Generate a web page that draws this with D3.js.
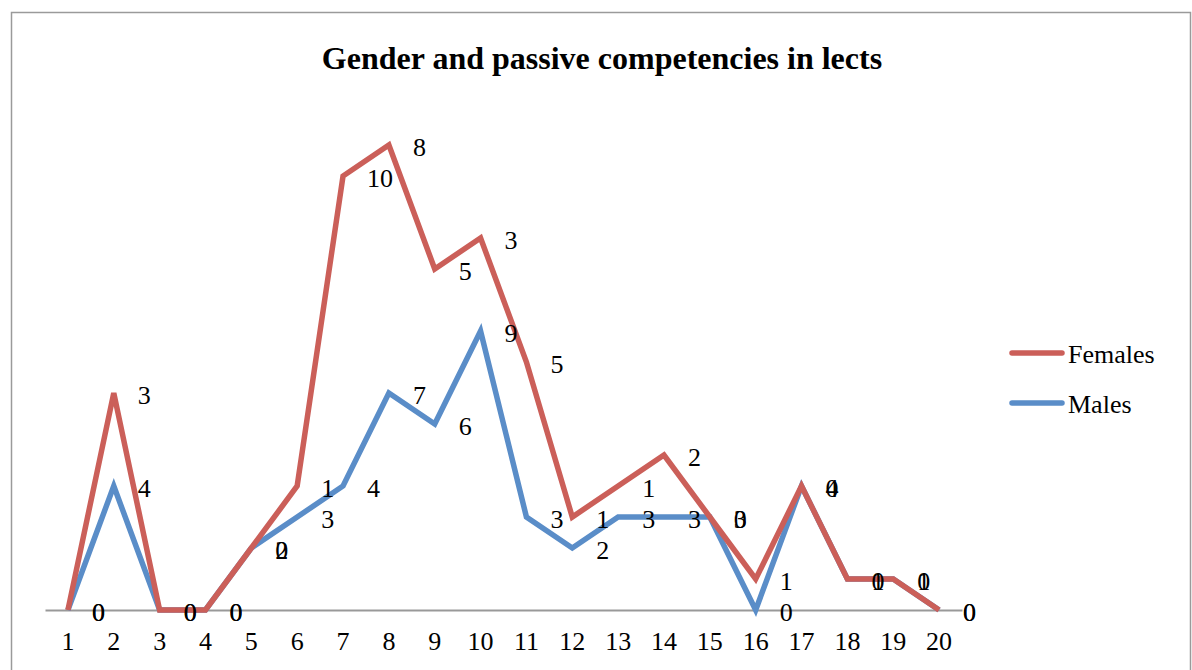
<!DOCTYPE html>
<html>
<head>
<meta charset="utf-8">
<script src="https://cdn.jsdelivr.net/npm/d3@7"></script>
<style>
	body { margin: 0; background: #fff; }
	svg text { font-family: "Liberation Serif", "Times New Roman", serif; fill: #000; }
</style>
</head>
<body>
<div id="container"></div>
<script>
var categories = ['1', '2', '3', '4', '5', '6', '7', '8', '9', '10', '11', '12', '13', '14', '15', '16', '17', '18', '19', '20'];
var males = [0, 4, 0, 0, 2, 3, 4, 7, 6, 9, 3, 2, 3, 3, 3, 0, 4, 1, 1, 0];
var females = [0, 3, 0, 0, 0, 1, 10, 8, 5, 3, 5, 1, 1, 2, 0, 1, 0, 0, 0, 0];
var seriesNames = ['Males', 'Females'];
var legendNames = ['Females', 'Males'];

var width = 1192;
var height = 670;
var serif = '"Liberation Serif", "Times New Roman", serif';
var colors = { Males: '#5a8dc8', Females: '#cb5f59' };

var rows = categories.map(function(c, i) {
	return { cat: c, Males: males[i], Females: females[i] };
});

var svg = d3.select('#container')
	.append('svg')
	.attr('width', width)
	.attr('height', height)
	.style('font-family', serif);

// outer chart frame
svg.append('rect')
	.attr('x', 11.5)
	.attr('y', 12.5)
	.attr('width', 1179)
	.attr('height', 700)
	.attr('fill', 'none')
	.attr('stroke', '#9a9a9a')
	.attr('stroke-width', 1.5);

svg.append('text')
	.attr('x', 602)
	.attr('y', 69)
	.attr('text-anchor', 'middle')
	.style('font-family', serif)
	.style('font-size', '32px')
	.style('font-weight', 'bold')
	.text('Gender and passive competencies in lects');

var x = d3.scaleBand()
	.domain(categories)
	.range([45, 962]);

var y = d3.scaleLinear()
	.domain([0, 16])
	.range([610, 114]);

var xAxis = svg.append('g')
	.attr('transform', 'translate(0,' + y(0) + ')')
	.call(d3.axisBottom(x).tickSize(0).tickPadding(22));
xAxis.select('.domain').attr('stroke', '#999').attr('stroke-width', 2);
xAxis.selectAll('text')
	.style('font-family', serif)
	.style('font-size', '26px')
	.attr('fill', '#000');

var stack = d3.stack().keys(seriesNames);
var layers = stack(rows);

var line = d3.line()
	.x(function(d) { return x(d.data.cat) + x.bandwidth() / 2; })
	.y(function(d) { return y(d[1]); });

svg.selectAll('path.series')
	.data(layers)
	.enter()
	.append('path')
	.attr('class', 'series')
	.attr('d', line)
	.attr('fill', 'none')
	.attr('stroke', function(d) { return colors[d.key]; })
	.attr('stroke-width', 5.5)
	.attr('stroke-linejoin', 'miter');

// data labels to the right of each point
layers.forEach(function(layer) {
	svg.append('g')
		.selectAll('text')
		.data(layer)
		.enter()
		.append('text')
		.attr('x', function(d) { return x(d.data.cat) + x.bandwidth() / 2 + 24; })
		.attr('y', function(d) { return y(d[1]) + 11; })
		.style('font-family', serif)
		.style('font-size', '26px')
		.text(function(d) { return d.data[layer.key]; });
});

var legend = svg.append('g')
	.selectAll('g')
	.data(legendNames)
	.enter()
	.append('g')
	.attr('transform', function(d, i) { return 'translate(1010,' + (353 + i * 50) + ')'; });

legend.append('line')
	.attr('x1', 2)
	.attr('x2', 52)
	.attr('stroke', function(d) { return colors[d]; })
	.attr('stroke-width', 5.5)
	.attr('stroke-linecap', 'round');

legend.append('text')
	.attr('x', 58)
	.attr('y', 10)
	.style('font-family', serif)
	.style('font-size', '26px')
	.text(function(d) { return d; });
</script>
</body>
</html>
